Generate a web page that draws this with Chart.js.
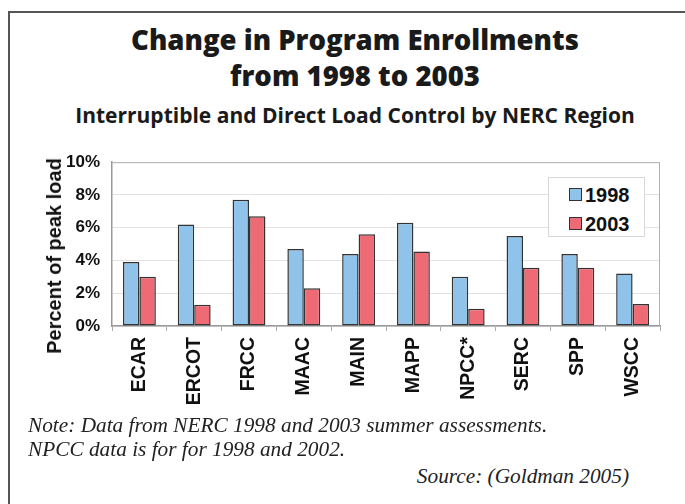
<!DOCTYPE html>
<html>
<head>
<meta charset="utf-8">
<script src="https://cdn.jsdelivr.net/npm/chart.js@4/dist/chart.umd.min.js"></script>
<style>
  html, body { margin: 0; padding: 0; background: #fff; }
  body { width: 685px; height: 504px; position: relative; overflow: hidden; }
  #frame { position: absolute; left: 8px; top: 11px; width: 720px; height: 520px;
           border-left: 2px solid #555; border-top: 2px solid #555; }
  .t { position: absolute; left: 0; width: 710px; text-align: center; white-space: nowrap; color: #1a1a1a; }
  #title { top: 22px; font: 800 27.5px/36px "Open Sans", sans-serif; }
  #subtitle { top: 102px; font: 700 21px/26px "Open Sans", sans-serif; }
  .note { position: absolute; left: 28px; font: italic 21.3px/24px "Liberation Serif", serif; color: #222; white-space: nowrap; }
  #src { left: auto; right: 56px; }
  #wrap { position: absolute; left: 0; top: 140px; width: 685px; height: 280px; }
  #ytitle { position: absolute; left: 53.5px; top: 256px; transform: translate(-50%, -50%) rotate(-90deg);
            font: 700 20px/22px "Liberation Sans", Arial, sans-serif; color: #111; white-space: nowrap; }
  #legend { position: absolute; left: 548px; top: 177px; width: 97px; height: 60px;
            border: 1px solid #d8d8d8; background: #fff; box-sizing: border-box; }
  .li { position: absolute; left: 20px; font: 700 20px/20px "Liberation Sans", Arial, sans-serif; color: #111; }
  .sw { display: inline-block; width: 11px; height: 11px; border: 1.5px solid #333; margin-right: 3px; vertical-align: 1px; }
</style>
</head>
<body>
<div id="frame"></div>
<div id="title" class="t">Change in Program Enrollments<br>from 1998 to 2003</div>
<div id="subtitle" class="t">Interruptible and Direct Load Control by NERC Region</div>
<div id="wrap"><canvas id="c" width="685" height="280"></canvas></div>
<div id="ytitle">Percent of peak load</div>
<div id="legend"></div>
<div class="note" style="top:413px">Note: Data from NERC 1998 and 2003 summer assessments.</div>
<div class="note" style="top:437px">NPCC data is for for 1998 and 2002.</div>
<div class="note" id="src" style="top:464px">Source: (Goldman 2005)</div>
<script>
const regions = ['ECAR', 'ERCOT', 'FRCC', 'MAAC', 'MAIN', 'MAPP', 'NPCC*', 'SERC', 'SPP', 'WSCC'];
const seriesNames = ['1998', '2003'];
const values1998 = [3.9, 6.2, 7.7, 4.7, 4.4, 6.3, 3.0, 5.5, 4.4, 3.2];
const values2003 = [3.0, 1.3, 6.7, 2.3, 5.6, 4.55, 1.05, 3.55, 3.55, 1.35];
const yTicks = [0, 2, 4, 6, 8, 10];

const colors = ['#8fc3ea', '#ee6b76'];

// HTML legend
const legend = document.getElementById('legend');
seriesNames.forEach((n, i) => {
  const d = document.createElement('div');
  d.className = 'li';
  d.style.top = (7 + i * 29) + 'px';
  d.innerHTML = '<span class="sw" style="background:' + colors[i] + '"></span>' + n;
  legend.appendChild(d);
});

const frameBox = {
  id: 'frameBox',
  afterDraw(chart) {
    const a = chart.chartArea, ctx = chart.ctx;
    ctx.save();
    ctx.strokeStyle = '#b0b0b0';
    ctx.lineWidth = 1;
    ctx.beginPath();
    ctx.moveTo(a.left, a.top + 0.5);
    ctx.lineTo(a.right - 0.5, a.top + 0.5);
    ctx.lineTo(a.right - 0.5, a.bottom);
    ctx.stroke();
    ctx.restore();
  }
};

new Chart(document.getElementById('c'), {
  type: 'bar',
  data: {
    labels: regions,
    datasets: [
      { label: seriesNames[0], data: values1998, backgroundColor: colors[0], borderColor: '#333', borderWidth: 1.5, borderSkipped: false },
      { label: seriesNames[1], data: values2003, backgroundColor: colors[1], borderColor: '#333', borderWidth: 1.5, borderSkipped: false }
    ]
  },
  options: {
    responsive: false,
    animation: false,
    layout: { padding: { top: 21, right: 25, left: 0, bottom: 0 } },
    plugins: { legend: { display: false }, tooltip: { enabled: false } },
    datasets: { bar: { categoryPercentage: 0.6, barPercentage: 1.0 } },
    scales: {
      x: {
        grid: { offset: true, drawOnChartArea: false, drawTicks: true, tickLength: 5, color: '#aaa' },
        border: { color: '#999', width: 1.5 },
        ticks: { minRotation: 90, maxRotation: 90, padding: 6, color: '#111',
                 font: { family: '"Liberation Sans", Arial, sans-serif', size: 19.5, weight: 'bold' } },
        afterFit(s) { s.height = 94; }
      },
      y: {
        min: 0, max: 10,
        afterBuildTicks(s) { s.ticks = yTicks.map(v => ({ value: v })); },
        grid: { color: '#e2e2e2', drawTicks: false, lineWidth: 1 },
        border: { color: '#999', width: 1.5 },
        ticks: { padding: 12, color: '#111', callback: v => v + '%',
                 font: { family: '"Liberation Sans", Arial, sans-serif', size: 17, weight: 'bold' } },
        afterFit(s) { s.width = 112; }
      }
    }
  },
  plugins: [frameBox]
});
</script>
</body>
</html>
